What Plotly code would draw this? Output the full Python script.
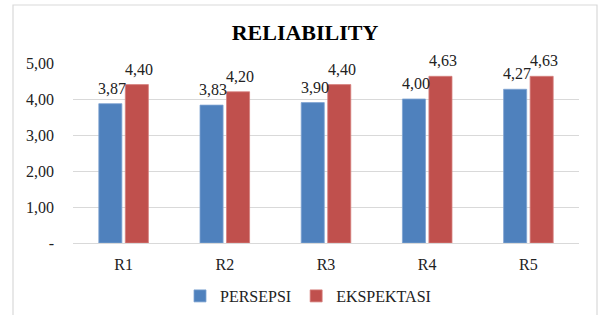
import plotly.graph_objects as go

categories = ["R1", "R2", "R3", "R4", "R5"]
persepsi = [3.87, 3.83, 3.90, 4.00, 4.27]
ekspektasi = [4.40, 4.20, 4.40, 4.63, 4.63]
tick_vals = [0, 1, 2, 3, 4, 5]
tick_text = ["-", "1,00", "2,00", "3,00", "4,00", "5,00"]

FONT = "Liberation Serif"

fig = go.Figure()
fig.add_trace(go.Bar(
    x=categories, y=persepsi, name="PERSEPSI",
    marker=dict(color="#4F81BD", line=dict(color="#7FA3D2", width=0.8)),
))
fig.add_trace(go.Bar(
    x=categories, y=ekspektasi, name="EKSPEKTASI",
    marker=dict(color="#C0504D", line=dict(color="#D5807E", width=0.8)),
))

L, R, T, B = 73, 22, 63, 72
W, H = 601, 315
pw, ph = W - L - R, H - T - B

def px_x(x):
    return (x - L) / pw

def px_y(y):
    return (H - B - y) / ph

annotations = []
for series, shift in ((persepsi, -11.5), (ekspektasi, 15.5)):
    for cat, val in zip(categories, series):
        annotations.append(dict(
            x=cat, y=val, xref="x", yref="y", text=f"{val:.2f}".replace(".", ","),
            showarrow=False, xanchor="center", yanchor="bottom",
            xshift=shift, yshift=5,
            font=dict(family=FONT, size=16, color="#222"),
        ))

fig.update_layout(
    width=W, height=H,
    margin=dict(l=L, r=R, t=T, b=B, autoexpand=False),
    paper_bgcolor="white", plot_bgcolor="white",
    separators=",.",
    barmode="group", bargap=0.476, bargroupgap=0.13,
    font=dict(family=FONT, size=16, color="#222"),
    title=dict(text="<b>RELIABILITY</b>", x=305 / W, xanchor="center",
               y=1 - 32 / H, yanchor="middle",
               font=dict(family=FONT, size=22, color="#000")),
    xaxis=dict(showgrid=False, showline=False, ticks="", ticklabelstandoff=10,
               tickfont=dict(family=FONT, size=16, color="#222")),
    yaxis=dict(range=[0, 5], tickvals=tick_vals, ticktext=tick_text,
               showgrid=True, gridcolor="#D9D9D9", gridwidth=1,
               zeroline=True, zerolinecolor="#D9D9D9", zerolinewidth=1,
               showline=False, ticks="", ticklabelstandoff=18,
               tickfont=dict(family=FONT, size=16, color="#222")),
    legend=dict(orientation="h", x=px_x(308), xanchor="center",
                y=px_y(296), yanchor="middle",
                font=dict(family=FONT, size=16, color="#222"),
                itemwidth=30, traceorder="normal"),
    annotations=annotations,
    shapes=[dict(type="rect", xref="paper", yref="paper",
                 x0=px_x(13), x1=px_x(597), y0=px_y(330), y1=px_y(5),
                 line=dict(color="#D9D9D9", width=1.2), layer="below")],
    showlegend=True,
)

fig.write_html("out.html", config={"displayModeBar": False},
               post_script="document.body.style.margin='0';")
